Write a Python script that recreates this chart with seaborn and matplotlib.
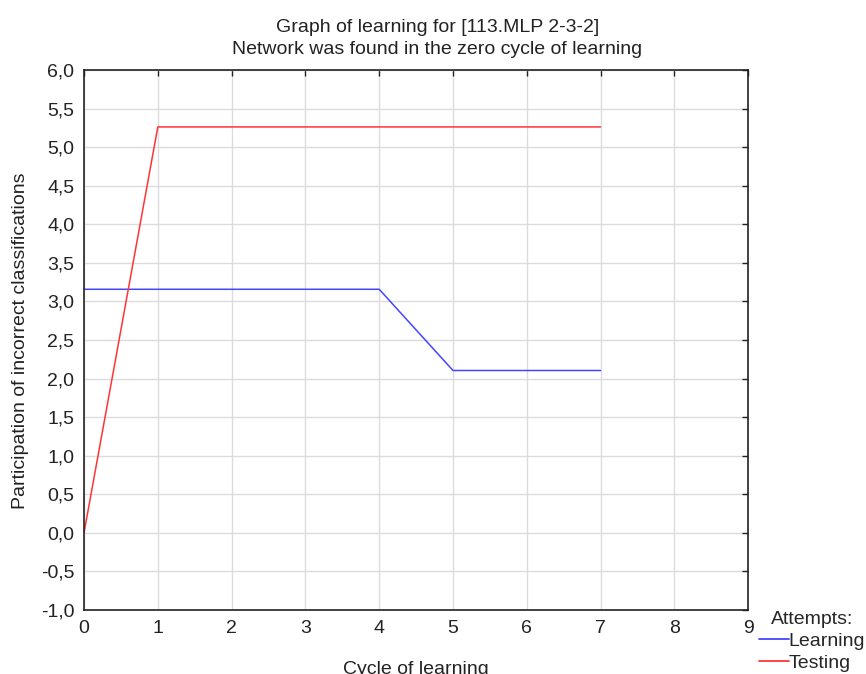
import pandas as pd
import numpy as np
import matplotlib
matplotlib.use('Agg')
import matplotlib.pyplot as plt
import seaborn as sns
from matplotlib.ticker import FuncFormatter, MultipleLocator

# cycles of learning and error shares (%)
cycles = [0, 1, 2, 3, 4, 5, 6, 7]
learning = [3.158, 3.158, 3.158, 3.158, 3.158, 2.105, 2.105, 2.105]
testing = [0.0, 5.263, 5.263, 5.263, 5.263, 5.263, 5.263, 5.263]

df = pd.DataFrame({
    'cycle': cycles * 2,
    'value': learning + testing,
    'Attempts:': ['Learning'] * len(cycles) + ['Testing'] * len(cycles),
})

sns.set_style('white')
plt.rcParams['font.family'] = ['Liberation Sans', 'DejaVu Sans']

fig = plt.figure(figsize=(8.66, 6.74), dpi=100)
ax = fig.add_axes([0.097, 0.095, 0.767, 0.801])
sns.lineplot(data=df, x='cycle', y='value', hue='Attempts:',
             palette={'Learning': '#4545ff', 'Testing': '#ff3535'},
             linewidth=1.1, ax=ax)

ax.set_xlim(0, 9)
ax.set_ylim(-1, 6)
ax.xaxis.set_major_locator(MultipleLocator(1))
ax.yaxis.set_major_locator(MultipleLocator(0.5))
ax.yaxis.set_major_formatter(FuncFormatter(lambda v, p: f'{v:.1f}'.replace('.', ',')))
ax.grid(True, color='#dcdcdc', linewidth=1)
ax.tick_params(direction='in', length=4, width=1, top=True, right=True,
               labelsize=14, colors='#222222', labelcolor='#222222')
ax.tick_params(axis='y', pad=7)
ax.tick_params(axis='x', pad=7)
for s in ax.spines.values():
    s.set_color('#222222')
    s.set_linewidth(1.2)

ax.set_xlabel('')
ax.set_ylabel('')
fig.text(0.48, -0.006, 'Cycle of learning', fontsize=14, ha='center', va='bottom', color='#222222')
fig.text(0.024, 0.495, 'Participation of incorrect classifications', fontsize=14,
         rotation=90, ha='center', va='center', color='#222222')
fig.text(0.505, 1 - 27 / 674, 'Graph of learning for [113.MLP 2-3-2]', fontsize=14,
         ha='center', va='center', color='#222222')
fig.text(0.505, 1 - 49 / 674, 'Network was found in the zero cycle of learning', fontsize=14,
         ha='center', va='center', color='#222222')

leg = ax.legend(title='Attempts:', loc='upper center', bbox_to_anchor=(812 / 866, 1 - 609 / 674),
                bbox_transform=fig.transFigure, frameon=False, fontsize=14,
                title_fontsize=14, handlelength=1.55, handletextpad=0.0,
                labelspacing=0.22, borderaxespad=0, borderpad=0.1)
leg._legend_box.align = 'center'
for h in leg.get_lines():
    h.set_linewidth(1.3)

fig.savefig('out.png', dpi=100)
